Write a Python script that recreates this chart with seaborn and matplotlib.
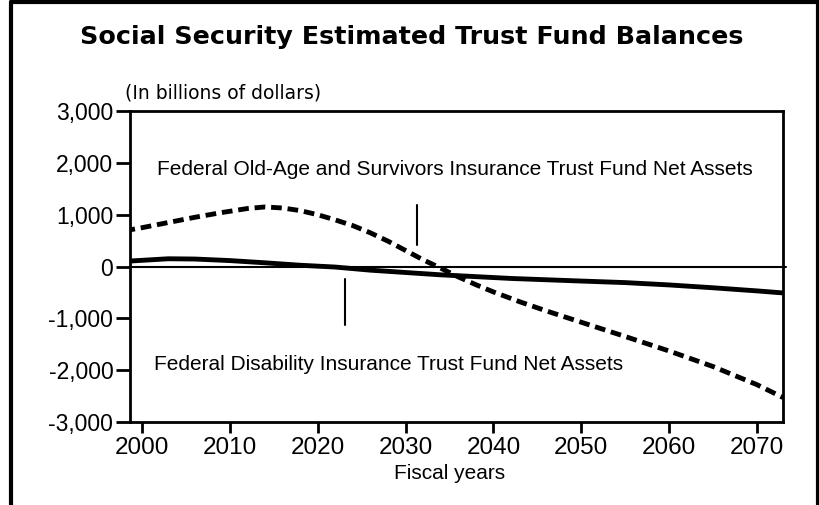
import pandas as pd
import seaborn as sns
import matplotlib.pyplot as plt
from matplotlib.lines import Line2D

# values (billions of dollars)
oasi_years = [1998, 2000, 2003, 2006, 2009, 2012, 2014, 2016, 2018, 2020, 2022, 2024,
              2026, 2028, 2030, 2032, 2034, 2036, 2038, 2040, 2043, 2046, 2050, 2055,
              2060, 2065, 2070, 2073]
oasi_vals = [690, 750, 850, 950, 1040, 1120, 1150, 1130, 1080, 1000, 900, 790,
             650, 490, 310, 130, -30, -200, -350, -490, -680, -855, -1075, -1350,
             -1630, -1930, -2280, -2530]

di_years = [1998, 2000, 2003, 2006, 2010, 2014, 2018, 2022, 2026, 2030, 2034, 2038,
            2042, 2046, 2050, 2055, 2060, 2065, 2070, 2073]
di_vals = [100, 120, 150, 145, 115, 72, 25, -10, -70, -115, -160, -195,
           -230, -255, -280, -310, -355, -410, -470, -510]

y_ticks = [-3000, -2000, -1000, 0, 1000, 2000, 3000]
x_ticks = [2000, 2010, 2020, 2030, 2040, 2050, 2060, 2070]

oasi_label = "Federal Old-Age and Survivors Insurance Trust Fund Net Assets"
di_label = "Federal Disability Insurance Trust Fund Net Assets"

sns.set_theme(style="white")
plt.rcParams['font.family'] = ['Liberation Sans', 'DejaVu Sans']
plt.rcParams['text.color'] = 'black'

fig = plt.figure(figsize=(8.2, 5.05), dpi=100)
ax = fig.add_axes([0.1585, 0.1644, 0.7963, 0.6156])

oasi = pd.DataFrame({'year': oasi_years, 'value': oasi_vals})
di = pd.DataFrame({'year': di_years, 'value': di_vals})

ax.axhline(0, color='black', lw=1.5, xmax=1.004, clip_on=False)
sns.lineplot(data=oasi, x='year', y='value', ax=ax, color='black', lw=3.5,
             linestyle=(0, (2.2, 1.2)))
sns.lineplot(data=di, x='year', y='value', ax=ax, color='black', lw=3.5)

# leader lines for the labels
ax.plot([2031.25, 2031.25], [1185, 410], color='black', lw=1.5)
ax.plot([2023.1, 2023.1], [-243, -1128], color='black', lw=1.5)
ax.text(2035.6, 1874, oasi_label, ha='center', va='center', fontsize=15, color='black')
ax.text(2028.1, -1893, di_label, ha='center', va='center', fontsize=15, color='black')

ax.set_xlim(1998.63, 2072.96)
ax.set_ylim(-3000, 3000)
ax.set_xticks(x_ticks)
ax.set_yticks(y_ticks)
ax.set_yticklabels([f"{v:,}" for v in y_ticks])
ax.tick_params(axis='y', direction='out', length=10, width=2, labelsize=16.5,
               color='black', labelcolor='black', left=True, pad=2)
ax.tick_params(axis='x', direction='out', length=8, width=2, labelsize=17.5,
               color='black', labelcolor='black', bottom=True, pad=3)
for s in ax.spines.values():
    s.set_color('black')
    s.set_linewidth(2)
ax.set_xlabel('Fiscal years', fontsize=15, color='black', labelpad=0)
ax.xaxis.set_label_coords(0.489, -0.135)
ax.set_ylabel('')

fig.text(0.502, 0.927, 'Social Security Estimated Trust Fund Balances',
         ha='center', va='center', fontsize=18.3, fontweight='bold',
         family='DejaVu Sans', color='black')
fig.text(0.152, 0.815, '(In billions of dollars)', ha='left', va='center',
         fontsize=13.5, family='DejaVu Sans', color='black')

# frame around the figure (left, top, right)
for xs, ys in [([0.014, 0.014], [0, 0.997]), ([0.014, 0.997], [0.997, 0.997]),
               ([0.997, 0.997], [0.997, 0])]:
    fig.add_artist(Line2D(xs, ys, transform=fig.transFigure, color='black', lw=3))

fig.savefig('out.png', dpi=100, facecolor='white')
